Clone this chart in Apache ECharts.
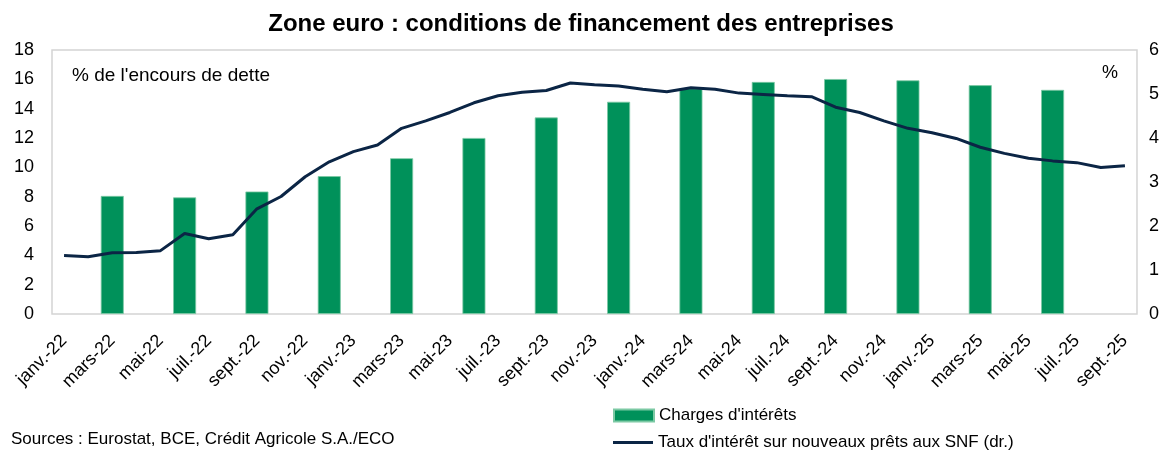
<!DOCTYPE html>
<html>
<head>
<meta charset="utf-8">
<script src="https://cdn.jsdelivr.net/npm/echarts@6/dist/echarts.min.js"></script>
<style>
  html, body { margin: 0; padding: 0; background: #fff; }
  #chart { width: 1162px; height: 454px; }
</style>
</head>
<body>
<div id="chart"></div>
<script>
// mois (jan 2022 -> sept 2025)
const months = [
  'janv.-22', 'févr.-22', 'mars-22', 'avr.-22', 'mai-22', 'juin-22', 'juil.-22', 'août-22', 'sept.-22', 'oct.-22', 'nov.-22', 'déc.-22',
  'janv.-23', 'févr.-23', 'mars-23', 'avr.-23', 'mai-23', 'juin-23', 'juil.-23', 'août-23', 'sept.-23', 'oct.-23', 'nov.-23', 'déc.-23',
  'janv.-24', 'févr.-24', 'mars-24', 'avr.-24', 'mai-24', 'juin-24', 'juil.-24', 'août-24', 'sept.-24', 'oct.-24', 'nov.-24', 'déc.-24',
  'janv.-25', 'févr.-25', 'mars-25', 'avr.-25', 'mai-25', 'juin-25', 'juil.-25', 'août-25', 'sept.-25'
]

// taux d'intérêt sur nouveaux prêts aux SNF (axe droit, %)
const rateValues = [
  1.33, 1.30, 1.39, 1.40, 1.44, 1.83, 1.71, 1.80, 2.39, 2.67, 3.12, 3.46,
  3.69, 3.84, 4.22, 4.39, 4.58, 4.80, 4.96, 5.04, 5.08, 5.25, 5.21, 5.18,
  5.11, 5.05, 5.14, 5.11, 5.02, 4.99, 4.96, 4.94, 4.70, 4.58, 4.39, 4.22,
  4.12, 3.99, 3.79, 3.65, 3.54, 3.48, 3.44, 3.33, 3.37
]

// charges d'intérêts, trimestrielles (axe gauche, % de l'encours)
const chargeMonths = [
  'mars-22', 'juin-22', 'sept.-22', 'déc.-22', 'mars-23', 'juin-23', 'sept.-23',
  'déc.-23', 'mars-24', 'juin-24', 'sept.-24', 'déc.-24', 'mars-25', 'juin-25'
]
const chargeValues = [8.05, 7.95, 8.35, 9.4, 10.62, 12.0, 13.4, 14.47, 15.38, 15.82, 16.02, 15.93, 15.6, 15.28]

const leftTicks = [0, 18, 2]   // min, max, pas
const rightTicks = [0, 6, 1]

const barName = "Charges d'intérêts"
const lineName = "Taux d'intérêt sur nouveaux prêts aux SNF (dr.)"

const barData = months.map(m => {
  const k = chargeMonths.indexOf(m)
  return k >= 0 ? chargeValues[k] : null
})

const chart = echarts.init(document.getElementById('chart'))
const font = 'Liberation Sans, Arial, sans-serif'

const legendText = { fontSize: 17, color: '#000', fontFamily: font }

const option = {
  animation: false,
  textStyle: { fontFamily: font },
  title: {
    text: 'Zone euro : conditions de financement des entreprises',
    left: 'center',
    top: 7,
    textStyle: { fontSize: 24, fontWeight: 'bold', color: '#000', fontFamily: font }
  },
  grid: {
    left: 52, right: 25, top: 50, bottom: 140,
    show: true,
    borderColor: '#d4d4d4',
    borderWidth: 1.5
  },
  // deux légendes séparées, l'une sous l'autre
  legend: [
    {
      left: 608, top: 402,
      itemWidth: 40, itemHeight: 12, itemGap: 4,
      textStyle: legendText,
      data: [{ name: barName, icon: 'rect' }]
    },
    {
      left: 608, top: 429,
      itemWidth: 40, itemHeight: 12,
      textStyle: legendText,
      data: [{ name: lineName, icon: 'path://M0,5 L40,5 L40,8 L0,8 Z' }]
    }
  ],
  xAxis: {
    type: 'category',
    data: months,
    boundaryGap: true,
    axisLine: { show: false },
    axisTick: { show: false },
    axisLabel: {
      interval: 1,
      rotate: 45,
      fontSize: 18,
      color: '#000',
      margin: 24
    }
  },
  yAxis: [
    {
      type: 'value',
      min: leftTicks[0], max: leftTicks[1], interval: leftTicks[2],
      splitLine: { show: false },
      axisLine: { show: false },
      axisTick: { show: false },
      axisLabel: { fontSize: 18, color: '#000', margin: 18 }
    },
    {
      type: 'value',
      min: rightTicks[0], max: rightTicks[1], interval: rightTicks[2],
      splitLine: { show: false },
      axisLine: { show: false },
      axisTick: { show: false },
      axisLabel: { fontSize: 18, color: '#000', margin: 12 }
    }
  ],
  series: [
    {
      name: barName,
      type: 'bar',
      data: barData,
      barWidth: 23,
      yAxisIndex: 0,
      itemStyle: { color: '#00915a', borderColor: '#7cc9a4', borderWidth: 0.8 }
    },
    {
      name: lineName,
      type: 'line',
      data: rateValues,
      yAxisIndex: 1,
      symbol: 'none',
      lineStyle: { color: '#0b2545', width: 3 },
      itemStyle: { color: '#0b2545' }
    }
  ],
  graphic: [
    {
      type: 'text', left: 72, top: 66,
      style: { text: "% de l'encours de dette", fill: '#000', font: '19px ' + font }
    },
    {
      type: 'text', left: 1102, top: 64,
      style: { text: '%', fill: '#000', font: '18px ' + font }
    },
    {
      type: 'text', left: 11, top: 431,
      style: { text: 'Sources : Eurostat, BCE, Crédit Agricole S.A./ECO', fill: '#000', font: '17px ' + font }
    }
  ]
}

chart.setOption(option)
</script>
</body>
</html>
